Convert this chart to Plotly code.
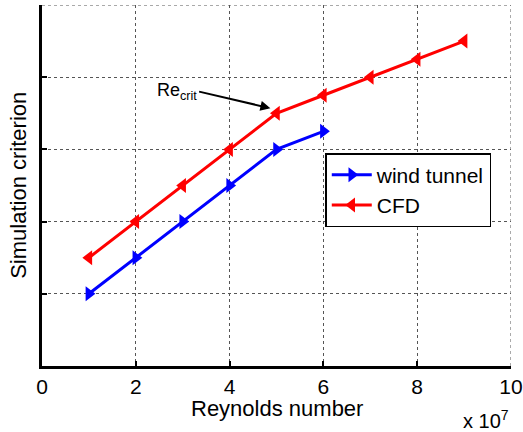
import plotly.graph_objects as go

reynolds_wt = [1, 2, 3, 4, 5, 6]
criterion_wt = [1.0, 1.5, 2.0, 2.5, 3.0, 3.25]
reynolds_cfd = [1, 2, 3, 4, 5, 6, 7, 8, 9]
criterion_cfd = [1.5, 2.0, 2.5, 3.0, 3.5, 3.75, 4.0, 4.25, 4.5]
x_ticks = [0, 2, 4, 6, 8, 10]
x_tick_labels = ["0", "2", "4", "6", "8", "10"]
y_ticks = [0, 1, 2, 3, 4, 5]
re_crit_point = (4.87, 3.57)
re_crit_text_pos = (3.35, 3.80)

FONT = "Liberation Sans, Arial, sans-serif"
GRID = "#555555"

fig = go.Figure()
fig.add_trace(go.Scatter(
    x=reynolds_wt, y=criterion_wt, name="wind tunnel", mode="lines+markers",
    line=dict(color="#0000ff", width=3),
    marker=dict(symbol="triangle-right", size=13, color="#0000ff"),
))
fig.add_trace(go.Scatter(
    x=reynolds_cfd, y=criterion_cfd, name="CFD", mode="lines+markers",
    line=dict(color="#ff0000", width=3),
    marker=dict(symbol="triangle-left", size=13, color="#ff0000"),
))

# edge gridlines (top and right) that plotly omits at the range ends
fig.add_shape(type="line", xref="x", yref="y", x0=x_ticks[0], x1=x_ticks[-1],
              y0=y_ticks[-1], y1=y_ticks[-1],
              line=dict(color=GRID, width=1, dash="dot"), layer="below")
fig.add_shape(type="line", xref="x", yref="y", x0=x_ticks[-1], x1=x_ticks[-1],
              y0=y_ticks[0], y1=y_ticks[-1],
              line=dict(color=GRID, width=1, dash="dot"), layer="below")

fig.add_annotation(
    x=re_crit_point[0], y=re_crit_point[1], xref="x", yref="y",
    ax=re_crit_text_pos[0], ay=re_crit_text_pos[1], axref="x", ayref="y",
    text="Re<sub>crit</sub>", showarrow=True, arrowhead=2, arrowsize=1,
    arrowwidth=2, arrowcolor="black", xanchor="right", yanchor="middle",
    font=dict(family=FONT, size=18, color="black"),
)
fig.add_annotation(
    x=0.5, y=-0.117, xref="paper", yref="paper", text="Reynolds number",
    showarrow=False, xanchor="center", yanchor="middle",
    font=dict(family=FONT, size=22, color="black"),
)
fig.add_annotation(
    x=(18 - 41.7) / 469.3, y=0.5, xref="paper", yref="paper",
    text="Simulation criterion", textangle=-90, showarrow=False,
    xanchor="center", yanchor="middle",
    font=dict(family=FONT, size=22, color="black"),
)
fig.add_annotation(
    x=1.0, y=-0.108, xref="paper", yref="paper", text="x 10<sup>7</sup>",
    showarrow=False, xanchor="right", yanchor="top",
    font=dict(family=FONT, size=20, color="black"),
)

fig.update_layout(
    width=523, height=432,
    margin=dict(l=42, r=12, t=5, b=66),
    paper_bgcolor="white", plot_bgcolor="white",
    showlegend=True,
    legend=dict(
        x=0.604, y=0.59, xanchor="left", yanchor="top",
        bgcolor="white", bordercolor="black", borderwidth=1.5,
        font=dict(family=FONT, size=21, color="black"),
        itemwidth=40, tracegroupgap=0,
    ),
    font=dict(family=FONT, color="black"),
)
fig.update_xaxes(
    range=[0, 10], tickvals=x_ticks, ticktext=x_tick_labels,
    showline=True, linewidth=3, linecolor="black",
    ticks="inside", ticklen=5, tickwidth=2, tickcolor="black",
    showgrid=True, gridcolor=GRID, griddash="dot", gridwidth=1,
    zeroline=False, ticklabelstandoff=0, automargin=False,
    ticklabeloverflow="allow",
    tickfont=dict(family=FONT, size=21, color="black"),
)
fig.update_yaxes(
    range=[0, 5], tickvals=y_ticks, showticklabels=False,
    showline=True, linewidth=3, linecolor="black",
    ticks="inside", ticklen=5, tickwidth=2, tickcolor="black",
    showgrid=True, gridcolor=GRID, griddash="dot", gridwidth=1,
    zeroline=False, automargin=False,
)

fig.write_html("out.html", config={"displayModeBar": False},
               post_script="document.body.style.margin='0';")
